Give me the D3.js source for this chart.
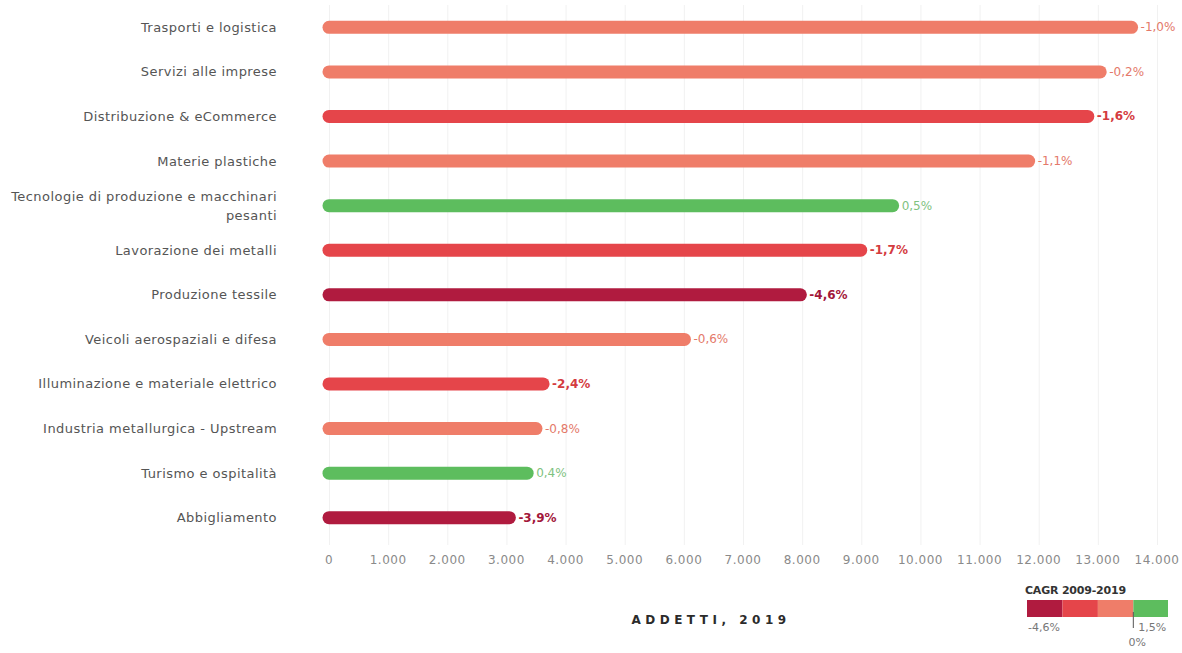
<!DOCTYPE html>
<html>
<head>
<meta charset="utf-8">
<script src="https://cdn.jsdelivr.net/npm/d3@7"></script>
<style>
  html, body { margin: 0; padding: 0; background: #fff; }
  svg { display: block; font-family: "DejaVu Sans", "Noto Sans", sans-serif; }
</style>
</head>
<body>
<svg id="chart" width="1182" height="653"></svg>
<script>
// Sector names (one line per array entry)
const categories = [
  ["Trasporti e logistica"],
  ["Servizi alle imprese"],
  ["Distribuzione & eCommerce"],
  ["Materie plastiche"],
  ["Tecnologie di produzione e macchinari", "pesanti"],
  ["Lavorazione dei metalli"],
  ["Produzione tessile"],
  ["Veicoli aerospaziali e difesa"],
  ["Illuminazione e materiale elettrico"],
  ["Industria metallurgica - Upstream"],
  ["Turismo e ospitalità"],
  ["Abbigliamento"]
];
// Employees in 2019
const addetti = [13570, 13040, 12830, 11830, 9530, 8990, 7970, 6010, 3620, 3500, 3350, 3050];
// Compound annual growth 2009-2019, percent
const cagr = [-1.0, -0.2, -1.6, -1.1, 0.5, -1.7, -4.6, -0.6, -2.4, -0.8, 0.4, -3.9];
// Axis ticks
const xTicks = d3.range(0, 14001, 1000);
// Colour legend
const legendMin = -4.6, legendMax = 1.5;
const binColors = ["#b01b3f", "#e5454a", "#ef7d69", "#5dbd5e"];
const labelColors = ["#a3173a", "#d43b40", "#e4796a", "#7fc27f"];

const svg = d3.select("#chart");
const xScale = d3.scaleLinear().domain([0, 14000]).range([329, 1157]);
const yScale = d3.scaleBand().domain(d3.range(categories.length)).range([5, 540]);

// threshold scale: three equal-width red bins below zero, one green bin above
const step = (0 - legendMin) / 3;
const colorIdx = d3.scaleThreshold().domain([legendMin + step, legendMin + 2 * step, 0]).range([0, 1, 2, 3]);

// Vertical gridlines
svg.append("g").selectAll("line").data(xTicks).join("line")
  .attr("x1", d => xScale(d) + 0.5).attr("x2", d => xScale(d) + 0.5)
  .attr("y1", 5).attr("y2", 545)
  .attr("stroke", "#f1f1f1").attr("stroke-width", 1);

// Axis tick labels
const fmt = d3.formatLocale({ decimal: ",", thousands: ".", grouping: [3], currency: ["€", ""] }).format(",.0f");
svg.append("g").selectAll("text").data(xTicks).join("text")
  .attr("x", d => xScale(d)).attr("y", 564)
  .attr("text-anchor", "middle")
  .attr("font-size", 12).attr("letter-spacing", 0.5).attr("fill", "#8a8a8a")
  .text(d => fmt(d));

// Category labels
const labelG = svg.append("g");
categories.forEach((lines, i) => {
  const cy = yScale(i) + yScale.bandwidth() / 2;
  const t = labelG.append("text")
    .attr("x", 277).attr("text-anchor", "end")
    .attr("font-size", 13).attr("letter-spacing", 0.45).attr("fill", "#555");
  lines.forEach((ln, j) => {
    t.append("tspan").attr("x", 277)
      .attr("y", cy + 4.5 + (j - (lines.length - 1) / 2) * 19)
      .text(ln);
  });
});

// Bars as rounded lines
const rows = categories.map((c, i) => ({ i, v: addetti[i], g: cagr[i] }));
svg.append("g").selectAll("line").data(rows).join("line")
  .attr("x1", xScale(0)).attr("x2", d => xScale(d.v))
  .attr("y1", d => yScale(d.i) + yScale.bandwidth() / 2)
  .attr("y2", d => yScale(d.i) + yScale.bandwidth() / 2)
  .attr("stroke", d => binColors[colorIdx(d.g)])
  .attr("stroke-width", 13).attr("stroke-linecap", "round");

// Growth labels at bar ends
const pct = v => d3.format(".1f")(v).replace(".", ",").replace("−", "-") + "%";
svg.append("g").selectAll("text").data(rows).join("text")
  .attr("x", d => xScale(d.v) + 9)
  .attr("y", d => yScale(d.i) + yScale.bandwidth() / 2 + 4)
  .attr("font-size", 12)
  .attr("font-weight", d => colorIdx(d.g) <= 1 ? 700 : 400)
  .attr("fill", d => labelColors[colorIdx(d.g)])
  .text(d => pct(d.g));

// Axis title
svg.append("text")
  .attr("x", 711).attr("y", 624).attr("text-anchor", "middle")
  .attr("font-size", 12).attr("font-weight", 700)
  .attr("letter-spacing", 4.5).attr("fill", "#2b2b2b")
  .text("ADDETTI, 2019");

// Legend
const lg = svg.append("g");
const lx = d3.scaleLinear().domain([legendMin, legendMax]).range([1027, 1168]);
lg.append("text").attr("x", 1025).attr("y", 594)
  .attr("font-size", 11).attr("font-weight", 700).attr("fill", "#333")
  .attr("letter-spacing", -0.2)
  .text("CAGR 2009-2019");
const edges = [legendMin, legendMin + step, legendMin + 2 * step, 0, legendMax];
lg.selectAll("rect").data(binColors).join("rect")
  .attr("x", (d, i) => lx(edges[i])).attr("width", (d, i) => lx(edges[i + 1]) - lx(edges[i]))
  .attr("y", 600).attr("height", 17).attr("fill", d => d);
lg.append("line").attr("x1", lx(0)).attr("x2", lx(0)).attr("y1", 612).attr("y2", 628)
  .attr("stroke", "#555").attr("stroke-width", 1);
lg.append("text").attr("x", 1028).attr("y", 631).attr("font-size", 11).attr("fill", "#777").text(pct(legendMin));
lg.append("text").attr("x", lx(0) + 5).attr("y", 631).attr("font-size", 11).attr("fill", "#777").text(pct(legendMax));
lg.append("text").attr("x", lx(0) + 4).attr("y", 646).attr("text-anchor", "middle").attr("font-size", 11).attr("fill", "#777").text("0%");
</script>
</body>
</html>
